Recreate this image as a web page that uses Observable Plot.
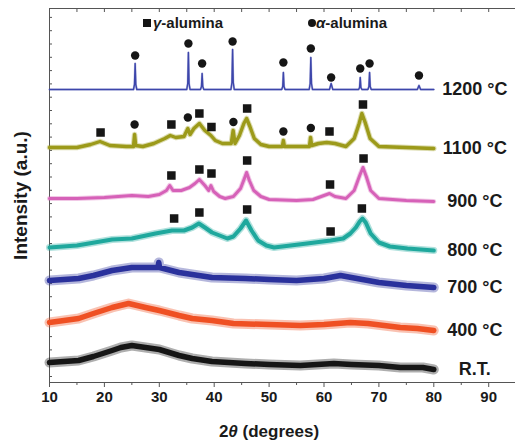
<!DOCTYPE html>
<html><head><meta charset="utf-8">
<script src="https://cdn.jsdelivr.net/npm/d3@7"></script>
<script src="https://cdn.jsdelivr.net/npm/@observablehq/plot@0.6"></script>
<style>
html,body{margin:0;padding:0;background:#fff;overflow:hidden}
body{width:515px;height:446px;position:relative;font-family:"Liberation Sans",Arial,sans-serif;color:#1a1a1a}
#chart{position:absolute;left:0;top:0}
#legend{position:absolute;left:0;top:0;width:515px;height:40px}
.lg{position:absolute;top:14px;font-weight:bold;font-size:15px;line-height:18px;white-space:nowrap}
.mk{position:absolute;background:#151515}
#xtitle{position:absolute;left:49px;width:440px;top:418px;height:28px;line-height:28px;text-align:center;font-weight:bold;font-size:17px}
</style></head><body>
<div id="chart"></div>
<div id="legend"></div>
<div id="xtitle">2<i>θ</i> (degrees)</div>
<script>
// ---- data (2θ, relative intensity) ----
const seriesNames = ["R.T.", "400 °C", "700 °C", "800 °C", "900 °C", "1100 °C", "1200 °C"];
const offsets = [20, 60, 102, 135, 184, 235, 293];

const tRT = [[10,0],[15.3,2],[18,6],[21.4,12],[23,15],[25,17],[27.5,15],[30,13],[33.6,7],[36,4],[39.6,1],[45.7,-1],[50,-2],[55.7,-3],[61.8,-1],[65,-2],[70,-3],[73.9,-5],[78,-5],[80,-7]];
const t400 = [[10,0],[15.3,4],[18,9],[21.4,15],[24.4,19],[27.5,15],[30,12],[33.6,7],[36,4],[39.6,2],[43.5,-1],[50,-2],[55.7,-3],[60,-2],[64.8,0],[68,-1],[73.9,-5],[77,-6],[80,-8]];
const t700 = [[10,0],[15.3,2],[18,5],[21.4,10],[25,13],[27.5,13],[29.75,13],[29.9,18],[30.05,13],[33.6,8],[36,6],[39.6,3],[45.7,2],[50,1],[55,0],[60,2],[63,5],[66,2],[70,-2],[75,-5],[80,-7]];
const t800 = [[10,0],[15,2],[21.4,8],[25,9],[29.3,14],[32.3,17],[34.5,17],[36,20],[37.2,24],[38.3,20],[39.6,15],[42.4,9],[43.5,11],[44.8,19],[45.8,27],[46.8,17],[48,7],[49.5,2],[50.9,0],[56.9,4],[61.2,7],[63.5,9],[64.8,14],[65.8,20],[66.5,26],[67,29],[67.6,25],[68.5,14],[70,5],[72,1],[75.2,-1],[80,-3]];
const t900 = [[10,0],[15,0],[20,1],[25,3],[28,2],[30,4],[31.3,8],[31.9,13],[32.5,8],[34,8],[35.5,11],[36.5,15],[37.3,19],[38.3,13],[39,8],[39.4,13],[39.9,7],[41,2],[42,0],[43.5,2],[44.8,10],[45.5,20],[45.9,26],[46.4,18],[47.2,8],[48.5,2],[50,-1],[55,-2],[58,-1],[60,3],[61,5],[62,2],[64,0],[65.5,8],[66.5,23],[67.1,31],[67.7,22],[68.5,8],[70,0],[75,-2],[80,-3]];
const t1100 = [[10,0],[13,0],[15,0],[17.5,3],[19.2,6],[21,2],[24,1],[25.3,1],[25.5,13],[25.7,2],[27,1],[29,4],[31,9],[32,12],[33,10],[34.5,11],[35.2,19],[35.6,13],[36.3,19],[37.3,24],[38.3,17],[39.4,12],[40.2,7],[41.5,4],[43.1,4],[43.45,17],[43.8,4],[44.6,12],[45.4,24],[45.9,29],[46.5,21],[47.3,9],[48.5,3],[50,1],[52.4,1],[52.6,7],[52.8,1],[55,1],[57.35,1],[57.55,10],[57.75,2],[59,4],[60.5,5],[62,4],[64,1],[65.5,9],[66.4,24],[66.9,34],[67.5,25],[68.4,9],[70,1],[75,0],[80,-1]];
const t1200 = [[10,0],[25.3,0],[25.48,5],[25.6,26],[25.72,5],[25.9,0],[35.0,0],[35.18,6],[35.3,37],[35.42,6],[35.6,0],[37.5,0],[37.68,3],[37.8,16],[37.92,3],[38.1,0],[43.05,0],[43.23,7],[43.35,40],[43.47,7],[43.65,0],[52.3,0],[52.48,3],[52.6,17],[52.72,3],[52.9,0],[57.3,0],[57.48,6],[57.6,32],[57.72,6],[57.9,0],[61.0,0],[61.3,6],[61.6,0],[66.3,0],[66.48,2],[66.6,12],[66.72,2],[66.9,0],[68.0,0],[68.18,3],[68.3,17],[68.42,3],[68.6,0],[77.0,0],[77.3,4],[77.6,0],[80,0]];
const patterns = [tRT, t400, t700, t800, t900, t1100, t1200];

// phase markers: [series index, 2θ, height above baseline]
const gammaMarks = [[5,19.3,15],[5,32.2,23],[5,37.3,34],[5,39.5,20.5],[5,46,39],[5,61,16],[5,67.1,43],
  [4,32.2,23],[4,37.3,29],[4,39.5,25],[4,46,38],[4,61.1,14],[4,67.2,40],
  [3,32.7,29],[3,37.3,35],[3,46,38],[3,61.2,16],[3,66.9,39]];
const alphaMarks = [[6,25.6,34],[6,35.3,46],[6,37.8,26],[6,43.35,48],[6,52.6,27],[6,57.6,41],[6,61.3,12],[6,66.6,21],[6,68.3,26],[6,77.3,14],
  [5,25.5,23],[5,35.2,30],[5,43.5,25.5],[5,52.6,16],[5,57.6,19.5]];
const legendLabels = ["γ", "-alumina", "α", "-alumina"];
const xTicks = [10,20,30,40,50,60,70,80,90];
const xMinorTicks = [15,25,35,45,55,65,75,85];

// ---- styles ----
const colors = ["#161616","#ef5023","#2a319c","#1fa89d","#d661b8","#9c9a1a","#3d46ab"];
const widths = [5.5,5.5,5.5,4,3,3.4,1.4];
const fuzz = [10,10,10,7,5,5.5,2.2];

const rows = patterns.map((p, i) => p.map(([x, v]) => ({series: seriesNames[i], x, y: v + offsets[i]})));
const markRows = (arr) => arr.map(([s, x, h]) => ({x, y: offsets[s] + h}));
const labelRows = patterns.map((p, i) => ({x: p[p.length-1][0], y: p[p.length-1][1] + offsets[i], text: seriesNames[i]}));

const yTop = 374;
const yTicks = d3.range(6, yTop, 13.3);
const axisColor = "#555";

const chart = Plot.plot({
  width: 515, height: 418,
  marginLeft: 49, marginRight: 0, marginTop: 8, marginBottom: 36,
  style: {fontFamily: '"Liberation Sans", Arial, sans-serif', color: "#1a1a1a", background: "#fff"},
  x: {domain: [10, 94.88]},
  y: {domain: [0, yTop]},
  marks: [
    Plot.ruleX([10], {stroke: axisColor}),
    Plot.ruleY([0, yTop], {stroke: axisColor}),
    Plot.axisX({ticks: xTicks, tickSize: 5, tickPadding: 4, fontSize: 15, fontWeight: "bold", label: null, stroke: axisColor}),
    Plot.axisX({ticks: xMinorTicks, tickSize: 3, tickFormat: () => "", label: null, stroke: axisColor}),
    Plot.axisX({anchor: "top", ticks: xTicks.concat(xMinorTicks), tickSize: -3, tickFormat: () => "", label: null, stroke: axisColor}),
    Plot.axisY({ticks: yTicks, tickSize: -3, tickFormat: () => "", label: "Intensity (a.u.)", labelAnchor: "center", labelArrow: "none", labelOffset: 36, fontSize: 19, fontWeight: "bold", stroke: axisColor}),
    ...rows.map((r, i) => Plot.line(r, {x: "x", y: "y", stroke: colors[i], strokeWidth: fuzz[i], strokeOpacity: 0.35, strokeLinejoin: "round"})),
    ...rows.map((r, i) => Plot.line(r, {x: "x", y: "y", stroke: colors[i], strokeWidth: widths[i], strokeLinejoin: "round"})),
    Plot.dot(markRows(gammaMarks), {x: "x", y: "y", symbol: "square", r: 4.8, fill: "#161616"}),
    Plot.dot(markRows(alphaMarks), {x: "x", y: "y", symbol: "circle", r: 4.2, fill: "#161616"}),
    Plot.text(labelRows, {x: "x", y: "y", text: "text", dx: 41, textAnchor: "middle", lineAnchor: "middle", fontSize: 18, fontWeight: "bold", fill: "#1a1a1a"})
  ]
});
document.getElementById("chart").appendChild(chart);

// legend (HTML, inside the frame area)
const lg = document.getElementById("legend");
const items = [{label: 0, shape: "square", mx: 143, tx: 153}, {label: 2, shape: "circle", mx: 308, tx: 316}];
items.forEach(it => {
  const m = document.createElement("div");
  m.className = "mk";
  m.style.left = it.mx + "px"; m.style.top = "19px";
  m.style.width = "8px"; m.style.height = "8px";
  if (it.shape === "circle") m.style.borderRadius = "50%";
  lg.appendChild(m);
  const t = document.createElement("div");
  t.className = "lg"; t.style.left = it.tx + "px";
  const g = document.createElement("i"); g.textContent = legendLabels[it.label];
  t.appendChild(g); t.appendChild(document.createTextNode(legendLabels[it.label + 1]));
  lg.appendChild(t);
});
</script>
</body></html>
